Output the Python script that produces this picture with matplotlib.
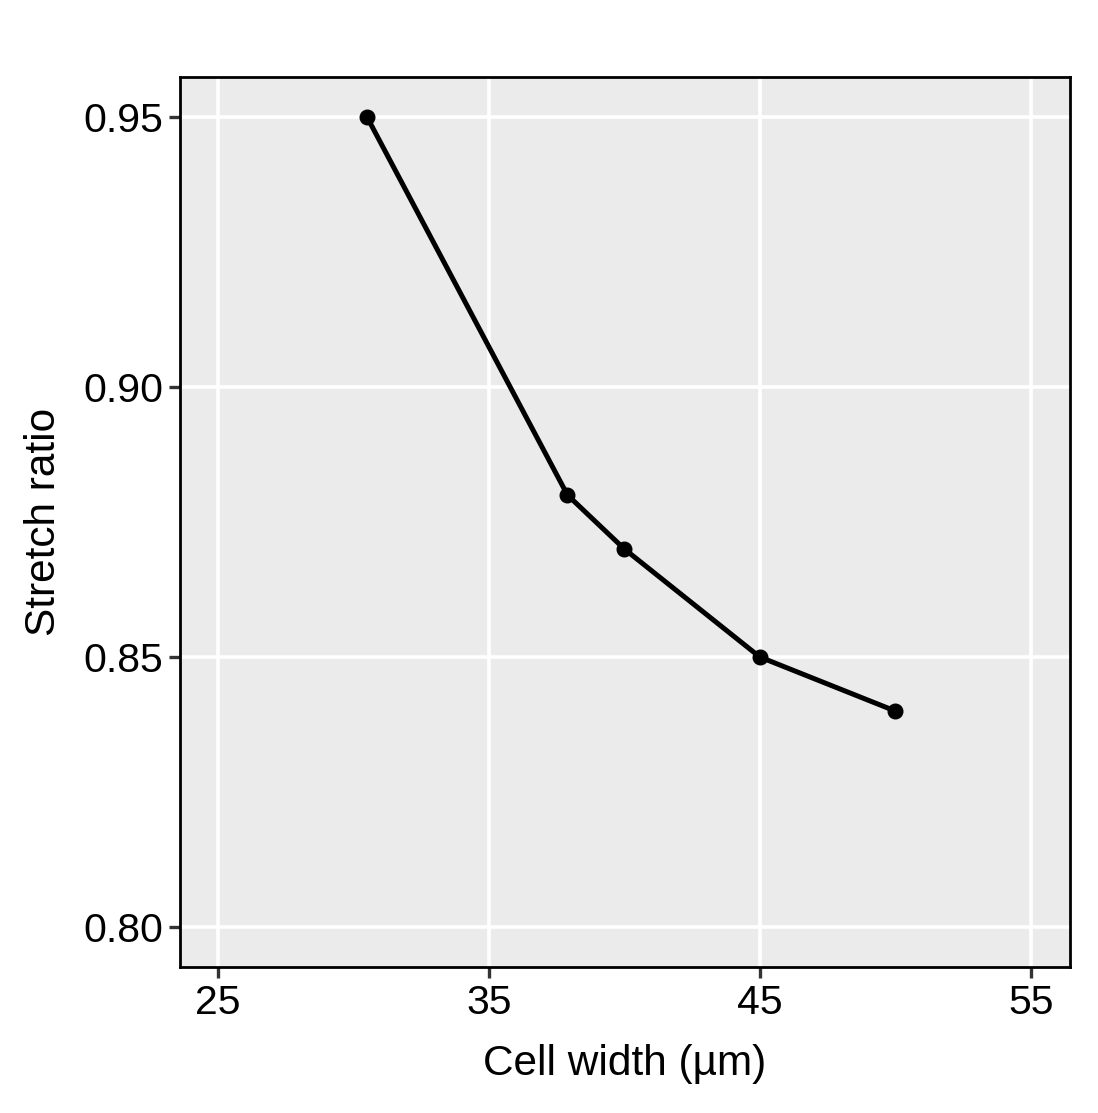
import matplotlib
matplotlib.use("Agg")
import matplotlib.pyplot as plt

cell_width = [30.5, 37.9, 40, 45, 50]
stretch_ratio = [0.95, 0.88, 0.87, 0.85, 0.84]
x_ticks = [25, 35, 45, 55]
y_ticks = [0.80, 0.85, 0.90, 0.95]
y_tick_labels = ["0.80", "0.85", "0.90", "0.95"]

plt.rcParams['font.family'] = ['Liberation Sans', 'DejaVu Sans']

fig = plt.figure(figsize=(10.98, 11.13), dpi=100)
ax = fig.add_axes([0.164, 0.1312, 0.8105, 0.7996])
ax.set_facecolor('#EBEBEB')
ax.plot(cell_width, stretch_ratio, color='black', lw=3.6, marker='o', ms=10.5, zorder=3)
ax.set_xlim(23.6, 56.45)
ax.set_ylim(0.7926, 0.9574)
ax.set_xticks(x_ticks)
ax.set_yticks(y_ticks)
ax.set_yticklabels(y_tick_labels)
ax.grid(True, color='white', lw=2.6)
ax.set_axisbelow(True)
for s in ax.spines.values():
    s.set_color('black')
    s.set_linewidth(2.0)
ax.tick_params(axis='both', direction='out', length=8, width=2.4, color='#333333',
               labelsize=29.5, labelcolor='black', pad=4)
ax.set_xlabel('Cell width (µm)', fontsize=30.5, labelpad=16)
ax.set_ylabel('Stretch ratio', fontsize=30.5, labelpad=14)
fig.savefig('out.png', dpi=100)
